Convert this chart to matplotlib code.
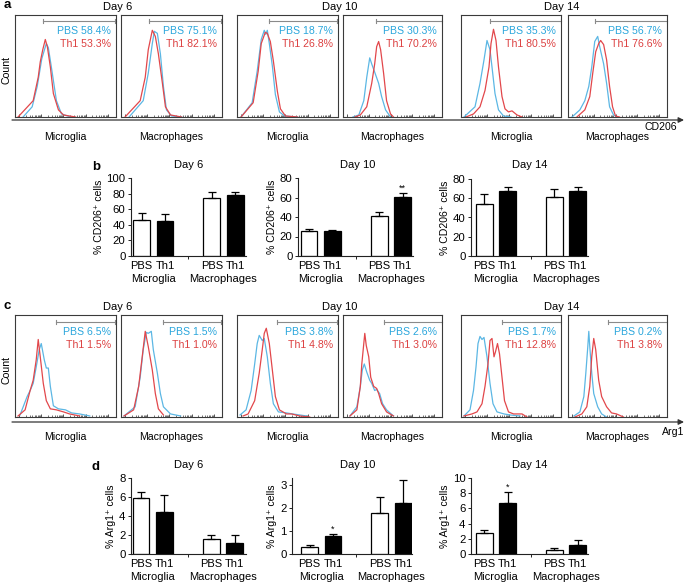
import matplotlib
matplotlib.use('Agg')
import matplotlib.pyplot as plt
import numpy as np

plt.rcParams['font.family'] = ['Liberation Sans', 'DejaVu Sans']

# ---------------- DATA ----------------
days = ["Day 6", "Day 10", "Day 14"]
cells = ["Microglia", "Macrophages"]
groups = ["PBS", "Th1"]

# Panel a: CD206 histograms (normalised channel position, normalised count)
a_d6_mg_pbs_x = [0.08, 0.17, 0.22, 0.265, 0.31, 0.33, 0.36, 0.41, 0.46, 0.55]
a_d6_mg_pbs_y = [0.0, 0.10, 0.30, 0.57, 0.72, 0.68, 0.49, 0.16, 0.03, 0.0]
a_d6_mg_th1_x = [0.03, 0.18, 0.23, 0.25, 0.275, 0.30, 0.32, 0.35, 0.38, 0.43, 0.48, 0.60]
a_d6_mg_th1_y = [0.0, 0.16, 0.39, 0.54, 0.66, 0.76, 0.69, 0.49, 0.23, 0.07, 0.02, 0.0]
a_d6_mp_pbs_x = [0.08, 0.22, 0.27, 0.31, 0.33, 0.36, 0.39, 0.42, 0.45, 0.50, 0.60]
a_d6_mp_pbs_y = [0.0, 0.16, 0.43, 0.72, 0.84, 0.82, 0.62, 0.30, 0.07, 0.01, 0.0]
a_d6_mp_th1_x = [0.04, 0.19, 0.24, 0.27, 0.31, 0.34, 0.37, 0.41, 0.44, 0.49, 0.60]
a_d6_mp_th1_y = [0.0, 0.16, 0.39, 0.66, 0.85, 0.79, 0.62, 0.33, 0.10, 0.02, 0.0]
a_d10_mg_pbs_x = [0.04, 0.15, 0.20, 0.24, 0.27, 0.285, 0.30, 0.32, 0.35, 0.38, 0.42, 0.47, 0.60]
a_d10_mg_pbs_y = [0.0, 0.14, 0.45, 0.76, 0.85, 0.81, 0.85, 0.72, 0.50, 0.22, 0.05, 0.01, 0.0]
a_d10_mg_th1_x = [0.04, 0.16, 0.21, 0.24, 0.28, 0.30, 0.33, 0.36, 0.40, 0.43, 0.48, 0.60]
a_d10_mg_th1_y = [0.0, 0.14, 0.45, 0.72, 0.83, 0.82, 0.74, 0.55, 0.25, 0.08, 0.01, 0.0]
a_d10_mp_pbs_x = [0.10, 0.16, 0.21, 0.24, 0.27, 0.29, 0.32, 0.36, 0.39, 0.43, 0.48]
a_d10_mp_pbs_y = [0.0, 0.02, 0.16, 0.39, 0.58, 0.52, 0.44, 0.33, 0.20, 0.07, 0.0]
a_d10_mp_th1_x = [0.12, 0.175, 0.24, 0.29, 0.32, 0.34, 0.36, 0.38, 0.41, 0.44, 0.48, 0.51]
a_d10_mp_th1_y = [0.0, 0.02, 0.10, 0.33, 0.52, 0.69, 0.74, 0.66, 0.43, 0.16, 0.03, 0.0]
a_d14_mg_pbs_x = [0.03, 0.14, 0.19, 0.23, 0.26, 0.29, 0.31, 0.34, 0.375, 0.425, 0.50]
a_d14_mg_pbs_y = [0.0, 0.10, 0.33, 0.56, 0.75, 0.66, 0.49, 0.23, 0.07, 0.01, 0.0]
a_d14_mg_th1_x = [0.05, 0.125, 0.19, 0.24, 0.28, 0.30, 0.325, 0.35, 0.375, 0.41, 0.44, 0.475, 0.51, 0.56, 0.61]
a_d14_mg_th1_y = [0.0, 0.03, 0.10, 0.26, 0.49, 0.72, 0.86, 0.75, 0.49, 0.20, 0.08, 0.05, 0.06, 0.02, 0.0]
a_d14_mp_pbs_x = [0.04, 0.12, 0.17, 0.21, 0.24, 0.27, 0.30, 0.32, 0.36, 0.39, 0.42, 0.46, 0.50]
a_d14_mp_pbs_y = [0.0, 0.07, 0.16, 0.30, 0.49, 0.74, 0.79, 0.69, 0.52, 0.33, 0.10, 0.02, 0.0]
a_d14_mp_th1_x = [0.09, 0.17, 0.22, 0.25, 0.28, 0.31, 0.33, 0.36, 0.39, 0.42, 0.45, 0.48, 0.52]
a_d14_mp_th1_y = [0.0, 0.07, 0.20, 0.43, 0.64, 0.72, 0.75, 0.71, 0.56, 0.30, 0.10, 0.01, 0.0]

a_pbs_pct = ["58.4", "75.1", "18.7", "30.3", "35.3", "56.7"]
a_th1_pct = ["53.3", "82.1", "26.8", "70.2", "80.5", "76.6"]
a_gate = [0.28, 0.28, 0.32, 0.33, 0.29, 0.27]

# Panel c: Arg1 histograms
c_d6_mg_pbs_x = [0.05, 0.12, 0.15, 0.18, 0.21, 0.24, 0.26, 0.29, 0.31, 0.33, 0.35, 0.38, 0.43, 0.50, 0.56, 0.64, 0.74]
c_d6_mg_pbs_y = [0.02, 0.20, 0.26, 0.33, 0.49, 0.66, 0.72, 0.56, 0.48, 0.48, 0.30, 0.11, 0.08, 0.07, 0.04, 0.03, 0.01]
c_d6_mg_th1_x = [0.03, 0.10, 0.15, 0.18, 0.21, 0.23, 0.25, 0.28, 0.31, 0.35, 0.41, 0.48, 0.54, 0.64]
c_d6_mg_th1_y = [0.01, 0.07, 0.26, 0.36, 0.56, 0.76, 0.59, 0.33, 0.16, 0.08, 0.07, 0.05, 0.03, 0.01]
c_d6_mp_pbs_x = [0.03, 0.14, 0.19, 0.22, 0.25, 0.27, 0.30, 0.32, 0.36, 0.39, 0.42, 0.49, 0.59]
c_d6_mp_pbs_y = [0.01, 0.10, 0.39, 0.66, 0.83, 0.82, 0.84, 0.66, 0.43, 0.23, 0.10, 0.03, 0.01]
c_d6_mp_th1_x = [0.03, 0.125, 0.175, 0.21, 0.24, 0.27, 0.31, 0.34, 0.37, 0.42]
c_d6_mp_th1_y = [0.01, 0.07, 0.30, 0.59, 0.84, 0.69, 0.46, 0.23, 0.08, 0.02]
c_d10_mg_pbs_x = [0.03, 0.09, 0.14, 0.175, 0.20, 0.22, 0.25, 0.27, 0.30, 0.33, 0.36, 0.41, 0.49, 0.55, 0.69]
c_d10_mg_pbs_y = [0.02, 0.07, 0.26, 0.52, 0.72, 0.80, 0.75, 0.77, 0.59, 0.33, 0.13, 0.05, 0.04, 0.03, 0.01]
c_d10_mg_th1_x = [0.06, 0.11, 0.175, 0.22, 0.25, 0.27, 0.29, 0.32, 0.35, 0.38, 0.42, 0.49, 0.54, 0.62, 0.72]
c_d10_mg_th1_y = [0.01, 0.03, 0.16, 0.43, 0.66, 0.82, 0.87, 0.72, 0.46, 0.20, 0.07, 0.03, 0.03, 0.01, 0.0]
c_d10_mp_pbs_x = [0.07, 0.14, 0.175, 0.195, 0.215, 0.24, 0.27, 0.29, 0.32, 0.34, 0.37, 0.40, 0.44, 0.51]
c_d10_mp_pbs_y = [0.01, 0.10, 0.30, 0.46, 0.52, 0.44, 0.36, 0.33, 0.26, 0.27, 0.23, 0.13, 0.07, 0.01]
c_d10_mp_th1_x = [0.07, 0.14, 0.175, 0.19, 0.21, 0.22, 0.235, 0.26, 0.28, 0.31, 0.34, 0.36, 0.39, 0.44, 0.51]
c_d10_mp_th1_y = [0.01, 0.07, 0.30, 0.52, 0.72, 0.82, 0.70, 0.59, 0.39, 0.30, 0.28, 0.23, 0.13, 0.05, 0.01]
c_d14_mg_pbs_x = [0.03, 0.09, 0.125, 0.15, 0.17, 0.19, 0.21, 0.23, 0.26, 0.29, 0.32, 0.36, 0.43, 0.49, 0.59]
c_d14_mg_pbs_y = [0.01, 0.07, 0.26, 0.49, 0.72, 0.79, 0.76, 0.78, 0.59, 0.33, 0.13, 0.05, 0.03, 0.02, 0.01]
c_d14_mg_th1_x = [0.03, 0.11, 0.16, 0.21, 0.24, 0.27, 0.29, 0.31, 0.33, 0.345, 0.365, 0.385, 0.41, 0.435, 0.475, 0.525, 0.61, 0.66]
c_d14_mg_th1_y = [0.01, 0.03, 0.05, 0.13, 0.30, 0.52, 0.75, 0.77, 0.59, 0.64, 0.72, 0.62, 0.39, 0.16, 0.05, 0.03, 0.03, 0.0]
c_d14_mp_pbs_x = [0.06, 0.12, 0.16, 0.18, 0.20, 0.21, 0.22, 0.24, 0.26, 0.30, 0.34, 0.39]
c_d14_mp_pbs_y = [0.01, 0.05, 0.20, 0.43, 0.69, 0.84, 0.69, 0.43, 0.23, 0.10, 0.03, 0.0]
c_d14_mp_th1_x = [0.07, 0.14, 0.19, 0.22, 0.24, 0.26, 0.28, 0.31, 0.34, 0.39, 0.44, 0.49, 0.56]
c_d14_mp_th1_y = [0.0, 0.03, 0.10, 0.30, 0.59, 0.77, 0.66, 0.36, 0.20, 0.10, 0.04, 0.03, 0.0]

c_pbs_pct = ["6.5", "1.5", "3.8", "2.6", "1.7", "0.2"]
c_th1_pct = ["1.5", "1.0", "4.8", "3.0", "12.8", "3.8"]
c_gate = [0.41, 0.42, 0.40, 0.41, 0.41, 0.40]

# Panel b: % CD206+ cells (PBS-Mg, Th1-Mg, PBS-Mp, Th1-Mp)
b_d6_mean = [46.4, 45.5, 75.0, 77.7]
b_d6_err = [8.6, 8.1, 7.0, 4.3]
b_d10_mean = [26.0, 25.7, 41.4, 60.9]
b_d10_err = [2.1, 1.0, 3.8, 3.4]
b_d14_mean = [53.6, 67.8, 61.2, 67.8]
b_d14_err = [10.4, 3.5, 8.0, 3.9]

# Panel d: % Arg1+ cells
d_d6_mean = [5.9, 4.4, 1.58, 1.16]
d_d6_err = [0.6, 1.8, 0.38, 0.8]
d_d10_mean = [0.30, 0.77, 1.80, 2.21]
d_d10_err = [0.09, 0.10, 0.67, 1.01]
d_d14_mean = [2.74, 6.65, 0.57, 1.17]
d_d14_err = [0.43, 1.48, 0.17, 0.70]

# ---------------- STYLE / LAYOUT ----------------
W, H = 685, 584
BLUE = '#5cb7e4'
RED = '#e2474b'
PBS_TXT = '#2aa6dc'
TH1_TXT = '#dc4040'
FS = 7.6

fig = plt.figure(figsize=(W / 100, H / 100), dpi=100)


def px_axes(x0, y0, x1, y1):
    return fig.add_axes([x0 / W, 1 - y1 / H, (x1 - x0) / W, (y1 - y0) / H])


box_x = [(15, 116), (121, 222), (237, 338), (343, 442), (461, 561), (568, 667)]

# decade-like tick marks on the histogram channel axis
major_t = [0.04, 0.26, 0.48, 0.70, 0.92]
minor_t = []
for m in major_t[:-1]:
    for k in range(2, 10):
        minor_t.append(m + 0.22 * np.log10(k))


def hist_box(xr, y0, y1, pbs_xy, th1_xy, gate, pbs_pct, th1_pct, gate_y, txt_y):
    ax = px_axes(xr[0], y0, xr[1], y1)
    ax.set_xlim(0, 1)
    ax.set_ylim(0, 1)
    for s in ax.spines.values():
        s.set_color('#3a3a3a')
        s.set_linewidth(0.8)
    ax.plot(pbs_xy[0], pbs_xy[1], color=BLUE, lw=0.9)
    ax.plot(th1_xy[0], th1_xy[1], color=RED, lw=0.9)
    ax.set_yticks([])
    ax.set_xticks(major_t)
    ax.set_xticks(minor_t, minor=True)
    ax.tick_params(axis='x', which='both', direction='in', labelbottom=False,
                   length=2.5, width=0.6, color='#3a3a3a')
    ax.tick_params(axis='x', which='minor', length=1.3, width=0.5)
    ax.plot([gate, 1.0], [gate_y, gate_y], color='#8a8a8a', lw=0.8, clip_on=False)
    ax.plot([gate, gate], [gate_y - 0.02, gate_y + 0.02], color='#8a8a8a', lw=0.8)
    ax.plot([0.995, 0.995], [gate_y - 0.02, gate_y + 0.02], color='#8a8a8a', lw=0.8)
    ax.text(0.95, txt_y[0], "PBS " + pbs_pct + "%", color=PBS_TXT, fontsize=FS,
            ha='right', va='center')
    ax.text(0.95, txt_y[1], "Th1 " + th1_pct + "%", color=TH1_TXT, fontsize=FS,
            ha='right', va='center')
    return ax


a_curves = [
    ((a_d6_mg_pbs_x, a_d6_mg_pbs_y), (a_d6_mg_th1_x, a_d6_mg_th1_y)),
    ((a_d6_mp_pbs_x, a_d6_mp_pbs_y), (a_d6_mp_th1_x, a_d6_mp_th1_y)),
    ((a_d10_mg_pbs_x, a_d10_mg_pbs_y), (a_d10_mg_th1_x, a_d10_mg_th1_y)),
    ((a_d10_mp_pbs_x, a_d10_mp_pbs_y), (a_d10_mp_th1_x, a_d10_mp_th1_y)),
    ((a_d14_mg_pbs_x, a_d14_mg_pbs_y), (a_d14_mg_th1_x, a_d14_mg_th1_y)),
    ((a_d14_mp_pbs_x, a_d14_mp_pbs_y), (a_d14_mp_th1_x, a_d14_mp_th1_y)),
]
c_curves = [
    ((c_d6_mg_pbs_x, c_d6_mg_pbs_y), (c_d6_mg_th1_x, c_d6_mg_th1_y)),
    ((c_d6_mp_pbs_x, c_d6_mp_pbs_y), (c_d6_mp_th1_x, c_d6_mp_th1_y)),
    ((c_d10_mg_pbs_x, c_d10_mg_pbs_y), (c_d10_mg_th1_x, c_d10_mg_th1_y)),
    ((c_d10_mp_pbs_x, c_d10_mp_pbs_y), (c_d10_mp_th1_x, c_d10_mp_th1_y)),
    ((c_d14_mg_pbs_x, c_d14_mg_pbs_y), (c_d14_mg_th1_x, c_d14_mg_th1_y)),
    ((c_d14_mp_pbs_x, c_d14_mp_pbs_y), (c_d14_mp_th1_x, c_d14_mp_th1_y)),
]

for i in range(6):
    hist_box(box_x[i], 15, 117, a_curves[i][0], a_curves[i][1], a_gate[i],
             a_pbs_pct[i], a_th1_pct[i], 0.94, (0.84, 0.72))
    hist_box(box_x[i], 315, 417, c_curves[i][0], c_curves[i][1], c_gate[i],
             c_pbs_pct[i], c_th1_pct[i], 0.93, (0.83, 0.71))

# ---------------- bar panels ----------------
UNIT = 23.4
POS = [0, 1, 3, 4]


def bar_panel(left, right, top, bottom, x0, means, errs, ylim, yticks, ylabel, stars):
    ax = px_axes(left, top, right, bottom)
    ax.set_xlim(x0, x0 + (right - left) / UNIT)
    ax.set_ylim(*ylim)
    ax.bar(POS, means, width=0.72, color=['white', 'black', 'white', 'black'],
           edgecolor='black', linewidth=0.9, zorder=2)
    ax.errorbar(POS, means, yerr=[[0] * 4, errs], fmt='none', ecolor='black',
                elinewidth=0.9, capsize=2.8, capthick=0.9, zorder=3)
    for sp in ['top', 'right']:
        ax.spines[sp].set_visible(False)
    for sp in ['left', 'bottom']:
        ax.spines[sp].set_linewidth(0.8)
        ax.spines[sp].set_color('#222')
    ax.set_yticks(yticks)
    ax.set_yticklabels([str(t) for t in yticks], fontsize=FS + 0.6)
    ax.set_xticks([2])
    ax.set_xticklabels([''])
    ax.tick_params(axis='both', direction='out', length=2.5, width=0.7, pad=1.5,
                   color='#222')
    ax.set_ylabel(ylabel, fontsize=FS, labelpad=2)
    for p, g in zip(POS, groups * 2):
        ax.annotate(g, xy=(p, 0), xycoords=('data', 'axes fraction'),
                    xytext=(0, -7.5), textcoords='offset points',
                    ha='center', va='center', fontsize=FS + 0.4)
    for cx, c in zip([0.5, 3.5], cells):
        ax.annotate(c, xy=(cx, 0), xycoords=('data', 'axes fraction'),
                    xytext=(0, -16.2), textcoords='offset points',
                    ha='center', va='center', fontsize=FS + 0.4)
    for idx, s in stars:
        ax.annotate(s, xy=(POS[idx], means[idx] + errs[idx]),
                    xytext=(0, 0.5), textcoords='offset points',
                    ha='center', va='bottom', fontsize=FS - 1)
    return ax


cd206_lab = "% CD206\u207a cells"
arg1_lab = "% Arg1\u207a cells"

bar_panel(131, 246, 178, 256, -0.45, b_d6_mean, b_d6_err, (0, 100),
          [0, 20, 40, 60, 80, 100], cd206_lab, [])
bar_panel(298, 413, 178, 256, -0.47, b_d10_mean, b_d10_err, (0, 80),
          [0, 20, 40, 60, 80], cd206_lab, [(3, '**')])
bar_panel(471, 588, 179, 256, -0.56, b_d14_mean, b_d14_err, (0, 80),
          [0, 20, 40, 60, 80], cd206_lab, [])

bar_panel(131, 246, 478, 554, -0.43, d_d6_mean, d_d6_err, (0, 8),
          [0, 2, 4, 6, 8], arg1_lab, [])
bar_panel(292, 412, 478, 554, -0.75, d_d10_mean, d_d10_err, (0, 3.3),
          [0, 1, 2, 3], arg1_lab, [(1, '*')])
bar_panel(471, 588, 478, 554, -0.56, d_d14_mean, d_d14_err, (0, 10),
          [0, 2, 4, 6, 8, 10], arg1_lab, [(1, '*')])

# ---------------- overlay text / arrows ----------------
ov = fig.add_axes([0, 0, 1, 1])
ov.set_xlim(0, W)
ov.set_ylim(H, 0)
ov.axis('off')
ov.patch.set_alpha(0)

for lab, y in [('a', 5), ('c', 306)]:
    ov.text(4, y, lab, fontsize=9.5, fontweight='bold', ha='left', va='center')
for lab, y in [('b', 167), ('d', 467)]:
    ov.text(92, y, lab, fontsize=9.5, fontweight='bold', ha='left', va='center')

for dname, x in zip(days, [118, 340, 562]):
    ov.text(x, 7, dname, fontsize=FS + 0.4, ha='center', va='center')
    ov.text(x, 307, dname, fontsize=FS + 0.4, ha='center', va='center')
for dname, x in zip(days, [189, 358, 530]):
    ov.text(x, 165, dname, fontsize=FS + 0.4, ha='center', va='center')
    ov.text(x, 465, dname, fontsize=FS + 0.4, ha='center', va='center')

for i, (x0, x1) in enumerate(box_x):
    c = cells[i % 2]
    ov.text((x0 + x1) / 2, 137, c, fontsize=FS, ha='center', va='center')
    ov.text((x0 + x1) / 2, 437, c, fontsize=FS, ha='center', va='center')

ov.text(7, 70, "Count", rotation=90, fontsize=FS, ha='center', va='center')
ov.text(7, 370, "Count", rotation=90, fontsize=FS, ha='center', va='center')

for y in [120, 422]:
    ov.annotate('', xy=(684, y), xytext=(12, y),
                arrowprops=dict(arrowstyle='-|>', color='#333333', lw=0.9,
                                mutation_scale=8, shrinkA=0, shrinkB=0))
ov.text(661, 127, "CD206", fontsize=FS, ha='center', va='center')
ov.text(673, 432, "Arg1", fontsize=FS, ha='center', va='center')

fig.savefig('out.png', dpi=100)
